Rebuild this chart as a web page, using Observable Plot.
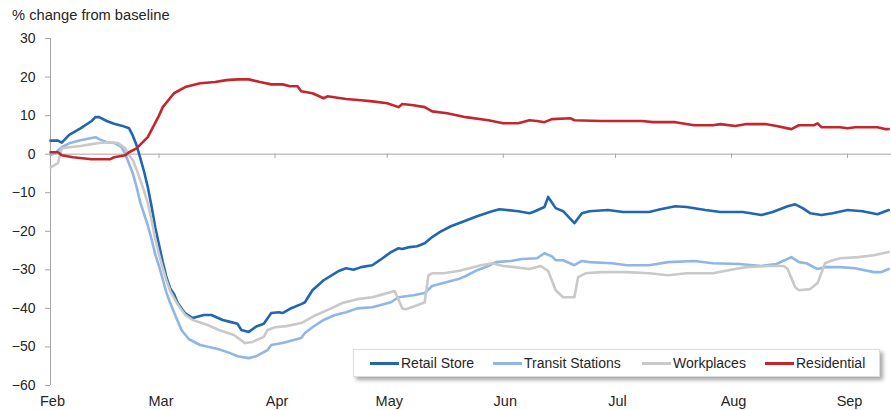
<!DOCTYPE html>
<html>
<head>
<meta charset="utf-8">
<script src="https://cdn.jsdelivr.net/npm/d3@7"></script>
<script src="https://cdn.jsdelivr.net/npm/@observablehq/plot@0.6"></script>
<style>
  body { margin: 0; background: #fff; font-family: "Liberation Sans", Arial, sans-serif; }
  #wrap { position: relative; width: 891px; height: 410px; overflow: hidden; background: #fff; }
  #title { position: absolute; left: 12px; top: 7px; font-size: 14.7px; color: #262626; white-space: nowrap; }
  #chart { position: absolute; left: 0; top: 28px; }
  #legend {
    position: absolute; left: 353px; top: 349px; width: 527px; height: 28px;
    box-sizing: border-box; background: #fff; border: 1px solid #dcdcdc;
    box-shadow: 3px 3px 4px rgba(0,0,0,0.35);
    font-size: 14px; color: #262626;
  }
  .item { position: absolute; top: 0; height: 26px; display: flex; align-items: center; white-space: nowrap; }
  .swatch { width: 29px; height: 3px; margin-right: 2px; }
</style>
</head>
<body>
<div id="wrap">
  <div id="title">% change from baseline</div>
  <div id="chart"></div>
  <div id="legend"></div>
</div>
<script>
// Mobility indices, % change from baseline, 2020
const retail = [
  ["2020-02-01",3.5],["2020-02-03",3.5],["2020-02-04",3.0],["2020-02-06",5.0],["2020-02-09",6.7],
  ["2020-02-12",8.6],["2020-02-13",9.6],["2020-02-14",9.6],["2020-02-16",8.6],["2020-02-18",7.9],
  ["2020-02-20",7.4],["2020-02-22",6.7],["2020-02-23",4.8],["2020-02-24",2.3],["2020-02-25",-1],
  ["2020-02-26",-4.5],["2020-02-27",-8.5],["2020-02-28",-13.5],["2020-02-29",-19],["2020-03-01",-23.5],
  ["2020-03-02",-28],["2020-03-03",-32],["2020-03-04",-34.8],["2020-03-05",-36.3],["2020-03-06",-38.6],
  ["2020-03-08",-41.3],["2020-03-10",-42.5],["2020-03-13",-41.7],["2020-03-15",-41.7],["2020-03-18",-43],
  ["2020-03-20",-43.5],["2020-03-22",-44],["2020-03-23",-45.6],["2020-03-25",-46.1],["2020-03-27",-44.7],
  ["2020-03-29",-44],["2020-03-31",-41.2],["2020-04-02",-41],["2020-04-03",-41.2],["2020-04-05",-40.1],
  ["2020-04-08",-38.9],["2020-04-09",-38.4],["2020-04-11",-35.3],["2020-04-14",-32.7],["2020-04-17",-30.9],
  ["2020-04-18",-30.3],["2020-04-20",-29.6],["2020-04-22",-30],["2020-04-24",-29.3],["2020-04-27",-28.8],
  ["2020-04-29",-27.5],["2020-05-02",-25.4],["2020-05-04",-24.4],["2020-05-05",-24.6],["2020-05-07",-24.1],
  ["2020-05-09",-23.9],["2020-05-11",-23.1],["2020-05-13",-21.5],["2020-05-15",-20.2],["2020-05-18",-18.7],
  ["2020-05-21",-17.6],["2020-05-25",-16.1],["2020-05-29",-14.8],["2020-05-31",-14.3],["2020-06-05",-14.8],
  ["2020-06-08",-15.3],["2020-06-09",-15],["2020-06-12",-13.7],["2020-06-13",-11.1],["2020-06-15",-14],
  ["2020-06-17",-14.8],["2020-06-20",-17.9],["2020-06-22",-15.3],["2020-06-24",-14.8],["2020-06-29",-14.5],
  ["2020-07-03",-15],["2020-07-10",-15],["2020-07-13",-14.3],["2020-07-17",-13.5],["2020-07-20",-13.7],
  ["2020-07-25",-14.5],["2020-07-29",-15],["2020-08-04",-15],["2020-08-09",-15.8],["2020-08-12",-15],
  ["2020-08-16",-13.5],["2020-08-18",-13],["2020-08-20",-14],["2020-08-22",-15.3],["2020-08-25",-15.8],
  ["2020-08-28",-15.3],["2020-09-01",-14.5],["2020-09-05",-14.8],["2020-09-09",-15.6],["2020-09-12",-14.5]
];

const transit = [
  ["2020-02-01",-0.2],["2020-02-02",0.2],["2020-02-04",1.8],["2020-02-06",2.8],["2020-02-09",3.6],
  ["2020-02-12",4.2],["2020-02-13",4.4],["2020-02-14",3.9],["2020-02-16",3.1],["2020-02-18",2.9],
  ["2020-02-20",1.8],["2020-02-21",0],["2020-02-22",-2.5],["2020-02-23",-5],["2020-02-24",-8.5],
  ["2020-02-25",-12.5],["2020-02-26",-15.5],["2020-02-27",-18.5],["2020-02-28",-22],["2020-02-29",-26],
  ["2020-03-01",-29],["2020-03-02",-32.5],["2020-03-03",-36],["2020-03-04",-38.6],["2020-03-05",-41],
  ["2020-03-07",-45.6],["2020-03-09",-48],["2020-03-12",-49.5],["2020-03-17",-50.6],["2020-03-20",-51.6],
  ["2020-03-22",-52.4],["2020-03-25",-52.9],["2020-03-27",-52.4],["2020-03-30",-50.8],["2020-03-31",-49.5],
  ["2020-04-03",-49],["2020-04-06",-48.2],["2020-04-08",-47.7],["2020-04-09",-46.4],["2020-04-11",-44.9],
  ["2020-04-14",-43],["2020-04-17",-41.7],["2020-04-20",-41],["2020-04-23",-40],["2020-04-27",-39.7],
  ["2020-04-29",-39.2],["2020-05-02",-38.4],["2020-05-04",-37.1],["2020-05-08",-36.6],["2020-05-11",-36],
  ["2020-05-13",-34.2],["2020-05-16",-33.4],["2020-05-20",-32.4],["2020-05-22",-31.6],["2020-05-25",-30.1],
  ["2020-05-28",-29],["2020-05-30",-28],["2020-06-03",-27.7],["2020-06-06",-27.2],["2020-06-10",-27],
  ["2020-06-12",-25.7],["2020-06-14",-26.5],["2020-06-15",-27.5],["2020-06-17",-27.5],["2020-06-20",-28.8],
  ["2020-06-22",-27.7],["2020-06-24",-28],["2020-06-30",-28.3],["2020-07-04",-28.8],["2020-07-10",-28.8],
  ["2020-07-15",-28],["2020-07-22",-27.7],["2020-07-27",-28.3],["2020-08-03",-28.5],["2020-08-09",-29],
  ["2020-08-13",-28.5],["2020-08-17",-26.7],["2020-08-19",-28],["2020-08-21",-28.3],["2020-08-24",-29.8],
  ["2020-08-26",-29.3],["2020-08-30",-29.3],["2020-09-03",-29.6],["2020-09-08",-30.6],["2020-09-10",-30.6],
  ["2020-09-12",-29.8]
];

const workplaces = [
  ["2020-02-01",-3.4],["2020-02-03",-2.3],["2020-02-04",1.5],["2020-02-06",1.8],["2020-02-09",2.1],
  ["2020-02-12",2.6],["2020-02-14",2.9],["2020-02-17",3.1],["2020-02-19",2.9],["2020-02-21",1.5],
  ["2020-02-22",-0.3],["2020-02-23",-1.5],["2020-02-24",-4],["2020-02-25",-6.7],["2020-02-26",-9.5],
  ["2020-02-27",-12.7],["2020-02-28",-17],["2020-02-29",-22],["2020-03-01",-26],["2020-03-02",-29.5],
  ["2020-03-03",-32.8],["2020-03-04",-35.5],["2020-03-05",-37.3],["2020-03-06",-39],["2020-03-08",-41.7],
  ["2020-03-10",-43],["2020-03-14",-44.3],["2020-03-17",-45.6],["2020-03-21",-46.9],["2020-03-24",-49],
  ["2020-03-26",-48.7],["2020-03-29",-47.4],["2020-03-30",-45.6],["2020-04-01",-44.9],["2020-04-04",-44.6],
  ["2020-04-08",-43.8],["2020-04-12",-41.7],["2020-04-16",-40],["2020-04-19",-38.6],["2020-04-23",-37.6],
  ["2020-04-27",-37.1],["2020-04-30",-36.3],["2020-05-03",-35.5],["2020-05-05",-40],["2020-05-06",-40.2],
  ["2020-05-09",-39.2],["2020-05-11",-38.4],["2020-05-12",-31.4],["2020-05-13",-30.9],["2020-05-16",-30.9],
  ["2020-05-20",-30.3],["2020-05-23",-29.6],["2020-05-26",-28.8],["2020-05-29",-28.3],["2020-06-01",-29],
  ["2020-06-04",-29.3],["2020-06-08",-29.8],["2020-06-11",-29],["2020-06-13",-30.3],["2020-06-15",-35.3],
  ["2020-06-17",-37.1],["2020-06-20",-37.1],["2020-06-21",-31.9],["2020-06-23",-30.9],["2020-06-27",-30.6],
  ["2020-07-04",-30.6],["2020-07-10",-30.9],["2020-07-15",-31.4],["2020-07-20",-30.9],["2020-07-27",-30.9],
  ["2020-08-02",-29.8],["2020-08-05",-29.3],["2020-08-11",-29],["2020-08-15",-29],["2020-08-16",-29.8],
  ["2020-08-18",-34.5],["2020-08-19",-35.3],["2020-08-22",-35],["2020-08-24",-33.4],["2020-08-26",-28.3],
  ["2020-08-28",-27.5],["2020-08-30",-27],["2020-09-04",-26.7],["2020-09-08",-26.2],["2020-09-12",-25.4]
];

const residential = [
  ["2020-02-01",0.5],["2020-02-03",0.5],["2020-02-04",-0.3],["2020-02-07",-0.8],["2020-02-12",-1.3],
  ["2020-02-17",-1.3],["2020-02-18",-0.8],["2020-02-21",-0.3],["2020-02-22",0.5],["2020-02-24",1.5],
  ["2020-02-27",4.4],["2020-03-01",10],["2020-03-02",12.2],["2020-03-05",15.8],["2020-03-08",17.4],
  ["2020-03-12",18.4],["2020-03-16",18.7],["2020-03-19",19.2],["2020-03-22",19.4],["2020-03-25",19.4],
  ["2020-03-28",18.7],["2020-03-31",18.1],["2020-04-03",18.1],["2020-04-05",17.6],["2020-04-07",17.6],
  ["2020-04-08",16.3],["2020-04-11",15.8],["2020-04-14",14.5],["2020-04-15",15],["2020-04-20",14.3],
  ["2020-04-24",14],["2020-04-27",13.7],["2020-05-01",13.2],["2020-05-04",12.2],["2020-05-05",13],
  ["2020-05-08",12.7],["2020-05-11",12.2],["2020-05-13",11.1],["2020-05-17",10.6],["2020-05-22",9.6],
  ["2020-05-28",8.8],["2020-06-01",8],["2020-06-05",8],["2020-06-08",8.8],["2020-06-10",8.6],
  ["2020-06-12",8.3],["2020-06-14",9.1],["2020-06-19",9.3],["2020-06-20",8.8],["2020-06-27",8.6],
  ["2020-07-08",8.6],["2020-07-11",8.3],["2020-07-17",8.3],["2020-07-22",7.5],["2020-07-27",7.5],
  ["2020-07-29",7.8],["2020-08-02",7.3],["2020-08-05",7.8],["2020-08-10",7.8],["2020-08-13",7.3],
  ["2020-08-17",6.5],["2020-08-19",7.5],["2020-08-23",7.5],["2020-08-24",8],["2020-08-25",7],
  ["2020-08-30",7],["2020-09-01",6.7],["2020-09-03",7],["2020-09-09",7],["2020-09-11",6.5],
  ["2020-09-12",6.5]
];

const seriesNames = ["Retail Store", "Transit Stations", "Workplaces", "Residential"];
const seriesColors = ["#2166b1", "#8fb6e4", "#c9c9c9", "#c3262d"];
const monthTicks = ["2020-02-01","2020-03-01","2020-04-01","2020-05-01","2020-06-01","2020-07-01","2020-08-01","2020-09-01"];
const yTicks = [-60, -50, -40, -30, -20, -10, 0, 10, 20, 30];

const toRows = (pairs) => pairs.map(([d, v]) => ({date: new Date(d + "T00:00:00Z"), value: v}));
const seriesRows = [retail, transit, workplaces, residential].map(toRows);
const monthDates = monthTicks.map((d) => new Date(d + "T00:00:00Z"));
const axisGray = "#a6a6a6";

const chart = Plot.plot({
  width: 891,
  height: 382,
  marginLeft: 50,
  marginRight: 0,
  marginTop: 10,
  marginBottom: 25,
  style: {fontFamily: '"Liberation Sans", Arial, sans-serif', fontSize: "14px", color: "#262626", background: "transparent"},
  x: {type: "utc", domain: [monthDates[0], new Date("2020-09-12T18:00:00Z")]},
  y: {domain: [-60, 30], label: null},
  marks: [
    Plot.ruleY([0], {stroke: axisGray}),
    Plot.ruleX([monthDates[0]], {y1: -60, y2: 30, stroke: axisGray}),
    Plot.ruleX(monthDates.slice(1), {x: (d) => d, y1: 0, y2: -1.1, stroke: axisGray}),
    Plot.axisY({ticks: yTicks, tickSize: 5, tickPadding: 10, stroke: axisGray, fill: "#262626", fontSize: 14, label: null}),
    Plot.axisX({ticks: monthDates, tickSize: 0, tickPadding: 10, tickFormat: d3.utcFormat("%b"), fontSize: 14.5, dx: 2, label: null}),
    ...seriesRows.map((rows, i) =>
      Plot.lineY(rows, {x: "date", y: "value", stroke: seriesColors[i], strokeWidth: 2.6, strokeLinejoin: "round"})
    )
  ]
});
document.getElementById("chart").append(chart);

// Legend: one line swatch and label per series, at fixed offsets inside the box
const legendOffsets = [16, 139, 288, 411];
const legend = document.getElementById("legend");
seriesNames.forEach((name, i) => {
  const item = document.createElement("div");
  item.className = "item";
  item.style.left = legendOffsets[i] + "px";
  const sw = document.createElement("span");
  sw.className = "swatch";
  sw.style.background = seriesColors[i];
  const label = document.createElement("span");
  label.textContent = name;
  item.append(sw, label);
  legend.append(item);
});
</script>
</body>
</html>
